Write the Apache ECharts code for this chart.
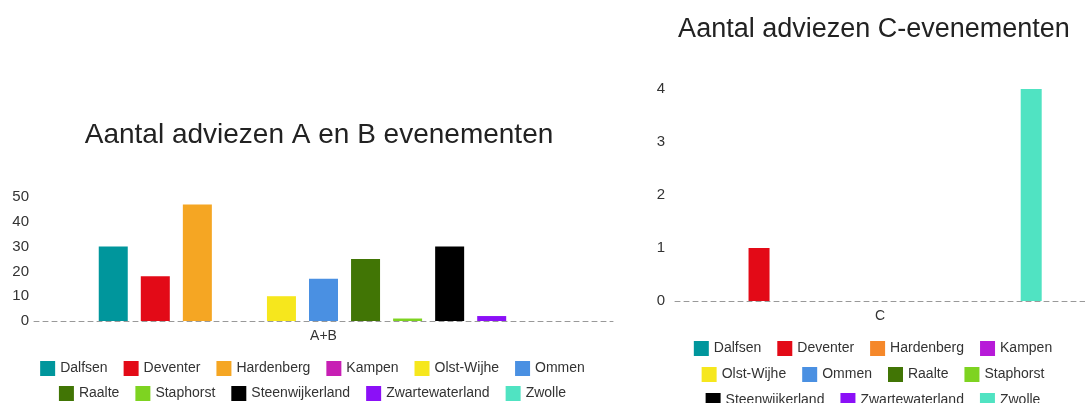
<!DOCTYPE html>
<html>
<head>
<meta charset="utf-8">
<script src="https://cdn.jsdelivr.net/npm/echarts@6/dist/echarts.min.js"></script>
<style>
  html, body { margin: 0; padding: 0; background: #fff; overflow: hidden; }
  #left { position: absolute; left: 0; top: 0; width: 625px; height: 403px; }
  #right { position: absolute; left: 640px; top: 0; width: 466px; height: 403px; }
</style>
</head>
<body>
<div id="left"></div>
<div id="right"></div>
<script>
// gemeenten (series)
const gemeenten = ["Dalfsen", "Deventer", "Hardenberg", "Kampen", "Olst-Wijhe", "Ommen",
  "Raalte", "Staphorst", "Steenwijkerland", "Zwartewaterland", "Zwolle"];

// kleuren per gemeente
const kleurenAB = ["#00969c", "#e30a17", "#f5a623", "#c71fb4", "#f6e71d", "#4a90e2",
  "#417505", "#7ed321", "#000000", "#8b10f7", "#50e3c2"];
const kleurenC = ["#00969c", "#e30a17", "#f5882a", "#b71ad8", "#f6e71d", "#4a90e2",
  "#417505", "#7ed321", "#000000", "#8b10f7", "#50e3c2"];

// categorieen
const categorieAB = ["A+B"];
const categorieC = ["C"];

// aantal adviezen per gemeente
const waardenAB = [30, 18, 47, 0, 10, 17, 25, 1, 30, 2, 0];
const waardenC = [0, 1, 0, 0, 0, 0, 0, 0, 0, 0, 4];

const font = "Liberation Sans, Arial, sans-serif";

function legendRow(names, top) {
  return {
    data: names,
    top: top,
    left: "center",
    itemWidth: 15,
    itemHeight: 15,
    itemGap: 16,
    icon: "rect",
    textStyle: { color: "#333", fontSize: 14, fontFamily: font },
  };
}

function buildOption(cfg) {
  return {
    animation: false,
    title: {
      text: cfg.title,
      left: cfg.titleX,
      textAlign: "center",
      top: cfg.titleTop,
      textStyle: { color: "#222", fontSize: cfg.titleSize, fontWeight: "normal", fontFamily: font },
    },
    legend: cfg.legends,
    grid: cfg.grid,
    xAxis: {
      type: "category",
      data: cfg.categories,
      axisLine: { lineStyle: { color: "#999", type: [5, 4], width: 1 } },
      axisTick: { show: false },
      axisLabel: { color: "#333", fontSize: 14, fontFamily: font, margin: 8 },
    },
    yAxis: {
      type: "value",
      min: 0,
      max: cfg.max,
      interval: cfg.interval,
      splitLine: { show: false },
      axisLine: { show: false },
      axisLabel: { color: "#333", fontSize: 15, fontFamily: font, margin: cfg.labelMargin },
    },
    series: gemeenten.map((name, i) => ({
      name: name,
      type: "bar",
      data: [cfg.values[i]],
      barWidth: cfg.barWidth,
      barGap: cfg.barGap,
      itemStyle: { color: cfg.colors[i] },
    })),
  };
}

const leftChart = echarts.init(document.getElementById("left"));
leftChart.setOption(buildOption({
  title: "Aantal adviezen A en B evenementen",
  titleX: 314,
  titleTop: 116,
  titleSize: 28,
  legends: [legendRow(gemeenten.slice(0, 6), 356), legendRow(gemeenten.slice(6), 381)],
  grid: { left: 34, right: 12, top: 197, bottom: 82 },
  categories: categorieAB,
  max: 50,
  interval: 10,
  labelMargin: 5,
  values: waardenAB,
  colors: kleurenAB,
  barWidth: 29,
  barGap: "45%",
}));

const rightChart = echarts.init(document.getElementById("right"));
rightChart.setOption(buildOption({
  title: "Aantal adviezen C-evenementen",
  titleX: 229,
  titleTop: 11,
  titleSize: 27,
  legends: [legendRow(gemeenten.slice(0, 4), 336), legendRow(gemeenten.slice(4, 8), 362),
    legendRow(gemeenten.slice(8), 388)],
  grid: { left: 35, right: 21, top: 89, bottom: 102 },
  categories: categorieC,
  max: 4,
  interval: 1,
  labelMargin: 10,
  values: waardenC,
  colors: kleurenC,
  barWidth: 21,
  barGap: "44%",
}));
</script>
</body>
</html>
